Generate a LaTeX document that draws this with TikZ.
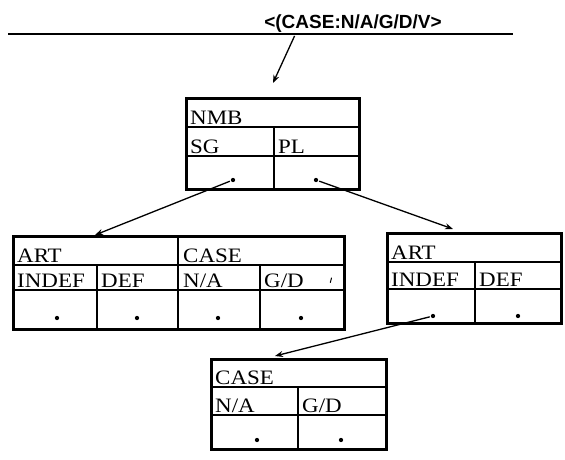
\documentclass[tikz,border=0pt]{standalone}
\usepackage{fontspec}
\setmainfont{Liberation Serif}
\newfontfamily\titlefont{Liberation Sans}
\usetikzlibrary{arrows.meta}
\newcommand{\cellx}[1]{\scalebox{1.12}[1]{#1}}
\begin{document}
\begin{tikzpicture}[x=1pt,y=-1pt,
  frame/.style={draw, line width=2.6pt, inner sep=0pt, anchor=north west},
  rule/.style={line width=1.1pt},
  lbl/.style={anchor=base west, inner sep=0pt, font=\fontsize{20.5}{24}\selectfont},
  dot/.style={circle, fill, inner sep=0pt, minimum size=4.3pt},
  link/.style={line width=1.3pt, -{Stealth[length=8pt,width=6pt]}, shorten <=1pt}]
\useasboundingbox (0,0) rectangle (565,460);

% title and rule
\node[anchor=base, inner sep=0pt, font=\titlefont\bfseries\fontsize{19}{22}\selectfont] (title) at (353,29) {<(CASE:N/A/G/D/V>};
\draw[line width=1.1pt] (8,34) -- (513,34);
\coordinate (t0) at (295,35);
\coordinate (tipNMB) at (273,83);
\draw[link] (t0) -- (tipNMB);

% NMB box
\node[frame, minimum width=173pt, minimum height=91pt] (nmb) at (185,97) {};
\draw[rule] (185,127) -- (358,127) (185,156) -- (358,156) (274,127) -- (274,188);
\node[lbl] (nmbT) at (190,124) {\cellx{NMB}};
\node[lbl] (nmbSG) at (190,153) {\cellx{SG}};
\node[lbl] (nmbPL) at (278,153) {\cellx{PL}};
\node[dot] (dSG) at (233,180) {};
\node[dot] (dPL) at (316,180) {};

% left box
\node[frame, minimum width=331pt, minimum height=93pt] (left) at (12,235) {};
\draw[rule] (12,265) -- (343,265) (12,290) -- (343,290)
  (97,265) -- (97,328) (178,235) -- (178,328) (260,265) -- (260,328);
\node[lbl] (lART) at (17,262) {\cellx{ART}};
\node[lbl] (lCASE) at (183,262) {\cellx{CASE}};
\node[lbl] (lINDEF) at (17,287) {\cellx{INDEF}};
\node[lbl] (lDEF) at (101,287) {\cellx{DEF}};
\node[lbl] (lNA) at (183,287) {\cellx{N/A}};
\node[lbl] (lGD) at (264,287) {\cellx{G/D}};
\node[dot] (dl1) at (57,318) {};
\node[dot] (dl2) at (137,318) {};
\node[dot] (dl3) at (218,318) {};
\node[dot] (dl4) at (301,318) {};
\draw[line width=1pt, line cap=round] (331.5,278) -- (330.3,282.5);

% right box
\node[frame, minimum width=174pt, minimum height=90pt] (right) at (386,232) {};
\draw[rule] (386,262) -- (560,262) (386,289) -- (560,289) (475,262) -- (475,322);
\node[lbl] (rART) at (391,259) {\cellx{ART}};
\node[lbl] (rINDEF) at (391,286) {\cellx{INDEF}};
\node[lbl] (rDEF) at (479,286) {\cellx{DEF}};
\node[dot] (dr1) at (433,316) {};
\node[dot] (dr2) at (518,316) {};

% bottom box
\node[frame, minimum width=175pt, minimum height=90pt] (bot) at (210,358) {};
\draw[rule] (210,387) -- (385,387) (210,415) -- (385,415) (298,387) -- (298,448);
\node[lbl] (bCASE) at (215,384) {\cellx{CASE}};
\node[lbl] (bNA) at (215,412) {\cellx{N/A}};
\node[lbl] (bGD) at (302,412) {\cellx{G/D}};
\node[dot] (db1) at (257,440) {};
\node[dot] (db2) at (341,440) {};

% connectors
\coordinate (tipL) at (95,235);
\coordinate (tipR) at (453,229);
\coordinate (tipB) at (275,356);
\draw[link] (dSG) -- (tipL);
\draw[link] (dPL) -- (tipR);
\draw[link] (dr1) -- (tipB);
\end{tikzpicture}
\end{document}
